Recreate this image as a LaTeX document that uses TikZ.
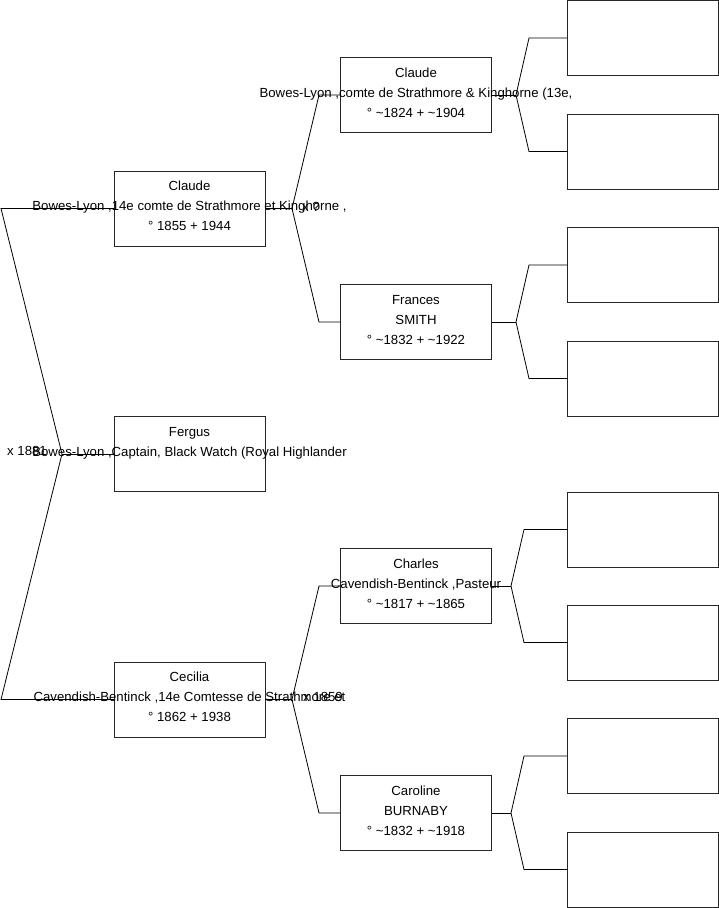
\documentclass[tikz,border=0pt]{standalone}
\usepackage{fontspec}
\setmainfont{Liberation Sans}
\newcommand\pbox[6]{%
  \node[box] (#1) at (#2,#3) {};
  \node[txt] (#1-a) at ([yshift=17.7pt]#1.center) {#4};
  \node[txt] (#1-b) at ([yshift=-2.3pt]#1.center) {#5};
  \node[txt] (#1-c) at ([yshift=-22.3pt]#1.center) {#6};
}
\begin{document}
\begin{tikzpicture}[x=1pt,y=-1pt,
  box/.style={draw=black!85, line width=0.8pt, minimum width=151pt, minimum height=75pt, inner sep=0pt, outer sep=0pt},
  txt/.style={font=\fontsize{13.2}{15}\selectfont, inner sep=0pt, anchor=base},
  lab/.style={font=\fontsize{13.2}{15}\selectfont, inner sep=0pt, anchor=base west},
  conn/.style={draw=black, line width=0.8pt}]
\useasboundingbox[fill=white] (0,0) rectangle (719,908);

% generation 0
\pbox{p1}{189.5}{208.5}{Claude}{Bowes-Lyon ,14e comte de Strathmore et Kinghorne ,}{° 1855 + 1944}
\pbox{p2}{189.5}{454}{Fergus}{Bowes-Lyon ,Captain, Black Watch (Royal Highlander}{}
\pbox{p3}{189.5}{699.5}{Cecilia}{Cavendish-Bentinck ,14e Comtesse de Strathmore et}{° 1862 + 1938}

% generation 1
\pbox{p4}{416}{95}{Claude}{Bowes-Lyon ,comte de Strathmore \& Kinghorne (13e,}{° \textasciitilde1824 + \textasciitilde1904}
\pbox{p5}{416}{322}{Frances}{SMITH}{° \textasciitilde1832 + \textasciitilde1922}
\pbox{p6}{416}{586}{Charles}{Cavendish-Bentinck ,Pasteur}{° \textasciitilde1817 + \textasciitilde1865}
\pbox{p7}{416}{813}{Caroline}{BURNABY}{° \textasciitilde1832 + \textasciitilde1918}

% generation 2 (empty)
\node[box] (g1) at (642.5,38) {};
\node[box] (g2) at (642.5,151.5) {};
\node[box] (g3) at (642.5,265) {};
\node[box] (g4) at (642.5,378.5) {};
\node[box] (g5) at (642.5,529.5) {};
\node[box] (g6) at (642.5,642.5) {};
\node[box] (g7) at (642.5,756) {};
\node[box] (g8) at (642.5,869.5) {};

% marriage labels
\node[lab] (m1) at (7,455.5) {x 1881};
\node[lab] (m2) at (302,211) {x ?};
\node[lab] (m3) at (303,701.5) {x 1859};

% left bracket
\coordinate (L0t) at (1,208.5);
\coordinate (L0b) at (1,699.5);
\coordinate (B0) at (62,454);
\draw[conn] (p1.west) -- (L0t) -- (B0) -- (L0b) -- (p3.west);
\draw[conn] (B0) -- (p2.west);

% Claude -> parents
\coordinate (B1) at (292,208.5);
\coordinate (B1a) at (319,95);
\coordinate (B1b) at (319,322);
\draw[conn] (p1.east) -- (B1);
\draw[conn] (p4.west) -- (B1a) -- (B1) -- (B1b) -- (p5.west);

% Cecilia -> parents
\coordinate (B2) at (292,699.5);
\coordinate (B2a) at (319,586);
\coordinate (B2b) at (319,813);
\draw[conn] (p3.east) -- (B2);
\draw[conn] (p6.west) -- (B2a) -- (B2) -- (B2b) -- (p7.west);

% gen1 -> gen2
\coordinate (C4) at (516,95);
\coordinate (C4a) at (529,38);
\coordinate (C4b) at (529,151.5);
\draw[conn] (p4.east) -- (C4);
\draw[conn] (g1.west) -- (C4a) -- (C4) -- (C4b) -- (g2.west);

\coordinate (C5) at (516,322);
\coordinate (C5a) at (529,265);
\coordinate (C5b) at (529,378.5);
\draw[conn] (p5.east) -- (C5);
\draw[conn] (g3.west) -- (C5a) -- (C5) -- (C5b) -- (g4.west);

\coordinate (C6) at (511,586);
\coordinate (C6a) at (524,529.5);
\coordinate (C6b) at (524,642.5);
\draw[conn] (p6.east) -- (C6);
\draw[conn] (g5.west) -- (C6a) -- (C6) -- (C6b) -- (g6.west);

\coordinate (C7) at (511,813);
\coordinate (C7a) at (524,756);
\coordinate (C7b) at (524,869.5);
\draw[conn] (p7.east) -- (C7);
\draw[conn] (g7.west) -- (C7a) -- (C7) -- (C7b) -- (g8.west);
\end{tikzpicture}
\end{document}
